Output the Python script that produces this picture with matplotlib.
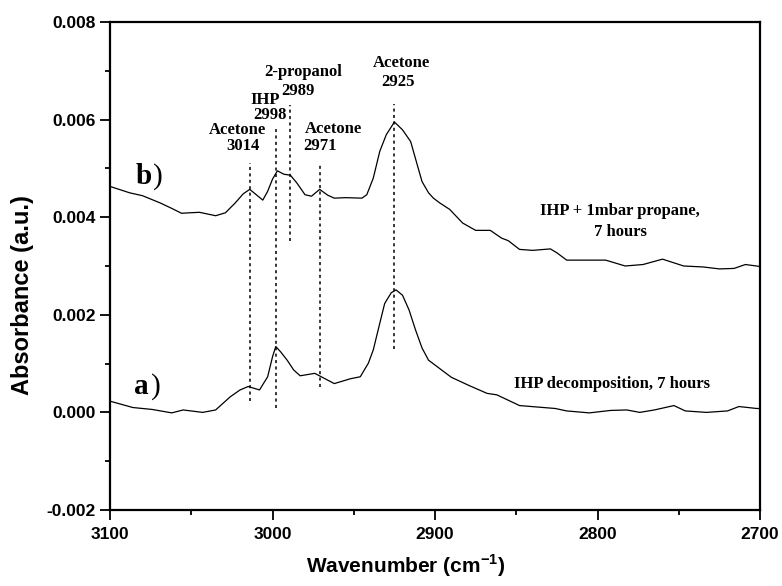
import matplotlib
matplotlib.use("Agg")
import matplotlib.pyplot as plt
from matplotlib.ticker import MultipleLocator, FormatStrFormatter

plt.rcParams["mathtext.fontset"] = "custom"
plt.rcParams["mathtext.rm"] = "Liberation Sans"
plt.rcParams["mathtext.bf"] = "Liberation Sans:bold"

# spectrum b) : IHP + 1 mbar propane, 7 hours
wn_b = [3100, 3088, 3080, 3069, 3062, 3056, 3051, 3045, 3035, 3029, 3023, 3018,
        3014, 3010, 3006, 3003, 3000, 2997, 2993, 2989, 2985, 2980, 2976, 2971,
        2966, 2962, 2955, 2945, 2942, 2938, 2934, 2930, 2925, 2920, 2915, 2911,
        2908, 2904, 2901, 2897, 2891, 2883, 2875, 2866, 2859, 2855, 2848, 2840,
        2829, 2825, 2819, 2811, 2795, 2783, 2772, 2760, 2747, 2735, 2725, 2716,
        2709, 2700]
abs_b = [0.00463, 0.00450, 0.00444, 0.00429, 0.00418, 0.00408, 0.00409, 0.00410,
         0.00403, 0.00409, 0.00429, 0.00448, 0.00457, 0.00446, 0.00435, 0.00453,
         0.00478, 0.00495, 0.00488, 0.00486, 0.00470, 0.00446, 0.00443, 0.00457,
         0.00445, 0.00439, 0.00440, 0.00439, 0.00446, 0.00480, 0.00535, 0.00569,
         0.00595, 0.00579, 0.00555, 0.00508, 0.00473, 0.00450, 0.00439, 0.00429,
         0.00416, 0.00388, 0.00373, 0.00373, 0.00357, 0.00352, 0.00334, 0.00332,
         0.00335, 0.00327, 0.00312, 0.00312, 0.00312, 0.00300, 0.00303, 0.00314,
         0.00300, 0.00298, 0.00294, 0.00295, 0.00303, 0.00299]

# spectrum a) : IHP decomposition, 7 hours
wn_a = [3100, 3086, 3074, 3062, 3055, 3043, 3035, 3026, 3020, 3015, 3008, 3003,
        3000, 2998, 2995, 2991, 2987, 2983, 2974, 2970, 2962, 2952, 2946, 2941,
        2938, 2935, 2931, 2927, 2924, 2920, 2916, 2912, 2908, 2904, 2900,
        2890, 2879, 2868, 2862, 2848, 2837, 2826, 2819, 2805, 2792, 2782, 2774,
        2765, 2753, 2746, 2733, 2720, 2713, 2702, 2700]
abs_a = [0.00023, 0.00010, 0.00006, -0.00001, 0.00005, 0.00000, 0.00005, 0.00032,
         0.00046, 0.00053, 0.00046, 0.00073, 0.00114, 0.00135, 0.00124, 0.00107,
         0.00087, 0.00075, 0.00080, 0.00073, 0.00059, 0.00069, 0.00073, 0.00101,
         0.00128, 0.00169, 0.00223, 0.00245, 0.00251, 0.00240, 0.00210,
         0.00169, 0.00132, 0.00107, 0.00097, 0.00072, 0.00055, 0.00039, 0.00036,
         0.00014, 0.00011, 0.00008, 0.00003, -0.00001, 0.00004, 0.00005, 0.00000,
         0.00005, 0.00014, 0.00003, 0.00000, 0.00003, 0.00012, 0.00008, 0.00008]

# peak markers (dotted lines)
peak_wn = [3014, 2998, 2989, 2971, 2925]
peak_top = [0.00511, 0.00582, 0.00630, 0.00508, 0.00631]
peak_bottom = [0.00024, 0.00008, 0.00351, 0.00052, 0.00130]

# peak labels, one text per line
label_text = ["Acetone", "3014", "IHP", "2998", "2-propanol", "2989",
              "Acetone", "2971", "Acetone", "2925"]
label_wn = [3021.5, 3018.3, 3004.3, 3001.8, 2981.2, 2984.3,
            2962.6, 2970.9, 2920.9, 2922.9]
label_y = [0.00579, 0.00545, 0.00640, 0.00609, 0.00698, 0.00659,
           0.00580, 0.00545, 0.00715, 0.00678]

SERIF = ["Liberation Serif", "DejaVu Serif"]
SANS = ["Liberation Sans", "DejaVu Sans"]

fig = plt.figure(figsize=(7.82, 5.86), dpi=100)
ax = fig.add_axes([0.1407, 0.1297, 0.8312, 0.8328])

ax.plot(wn_b, abs_b, color="black", lw=0.9)
ax.plot(wn_a, abs_a, color="black", lw=0.9)

for w, top, bot in zip(peak_wn, peak_top, peak_bottom):
    ax.plot([w, w], [bot, top], color="black", lw=1.1, ls=(0, (2, 2.2)))

for txt, w, y in zip(label_text, label_wn, label_y):
    ax.text(w, y, txt, ha="center", va="center", family=SERIF,
            fontweight="bold", fontsize=12)

ax.text(3084, 0.00484, "b", family=SERIF, fontweight="bold", fontsize=21,
        ha="left", va="center")
ax.text(3073.5, 0.00484, ")", family=SERIF, fontsize=21, ha="left", va="center")
ax.text(3085, 0.00053, "a", family=SERIF, fontweight="bold", fontsize=21,
        ha="left", va="center")
ax.text(3075, 0.00053, ")", family=SERIF, fontsize=21, ha="left", va="center")

ax.text(2786, 0.00412, "IHP + 1mbar propane,", family=SERIF,
        fontweight="bold", fontsize=12, ha="center", va="center")
ax.text(2786, 0.00369, "7 hours", family=SERIF,
        fontweight="bold", fontsize=12, ha="center", va="center")
ax.text(2791, 0.00059, "IHP decomposition, 7 hours", family=SERIF,
        fontweight="bold", fontsize=12, ha="center", va="center")

ax.set_xlim(3100, 2700)
ax.set_ylim(-0.002, 0.008)
ax.xaxis.set_major_locator(MultipleLocator(100))
ax.xaxis.set_minor_locator(MultipleLocator(50))
ax.yaxis.set_major_locator(MultipleLocator(0.002))
ax.yaxis.set_minor_locator(MultipleLocator(0.001))
ax.yaxis.set_major_formatter(FormatStrFormatter("%.3f"))

ax.tick_params(which="both", direction="out", top=False, right=False, width=1.3)
ax.tick_params(which="major", length=7)
ax.tick_params(which="minor", length=3.6)
ax.tick_params(axis="x", which="major", pad=5)
ax.tick_params(axis="y", which="major", pad=3.5)
for lab in ax.get_xticklabels() + ax.get_yticklabels():
    lab.set_family(SANS)
    lab.set_fontweight("bold")
    lab.set_fontsize(12.5)
for sp in ax.spines.values():
    sp.set_linewidth(1.6)

ax.set_xlabel("Wavenumber (cm$^{\\mathbf{-1}}$)", family=SANS, fontweight="bold",
              fontsize=15)
ax.xaxis.set_label_coords(0.455, -0.115)
ax.xaxis.label.set_va("center")
ax.set_ylabel("Absorbance (a.u.)", family=SANS, fontweight="bold", fontsize=17)
ax.yaxis.set_label_coords(-0.134, 0.44)
ax.yaxis.label.set_va("center")

fig.savefig("out.png", dpi=100)
